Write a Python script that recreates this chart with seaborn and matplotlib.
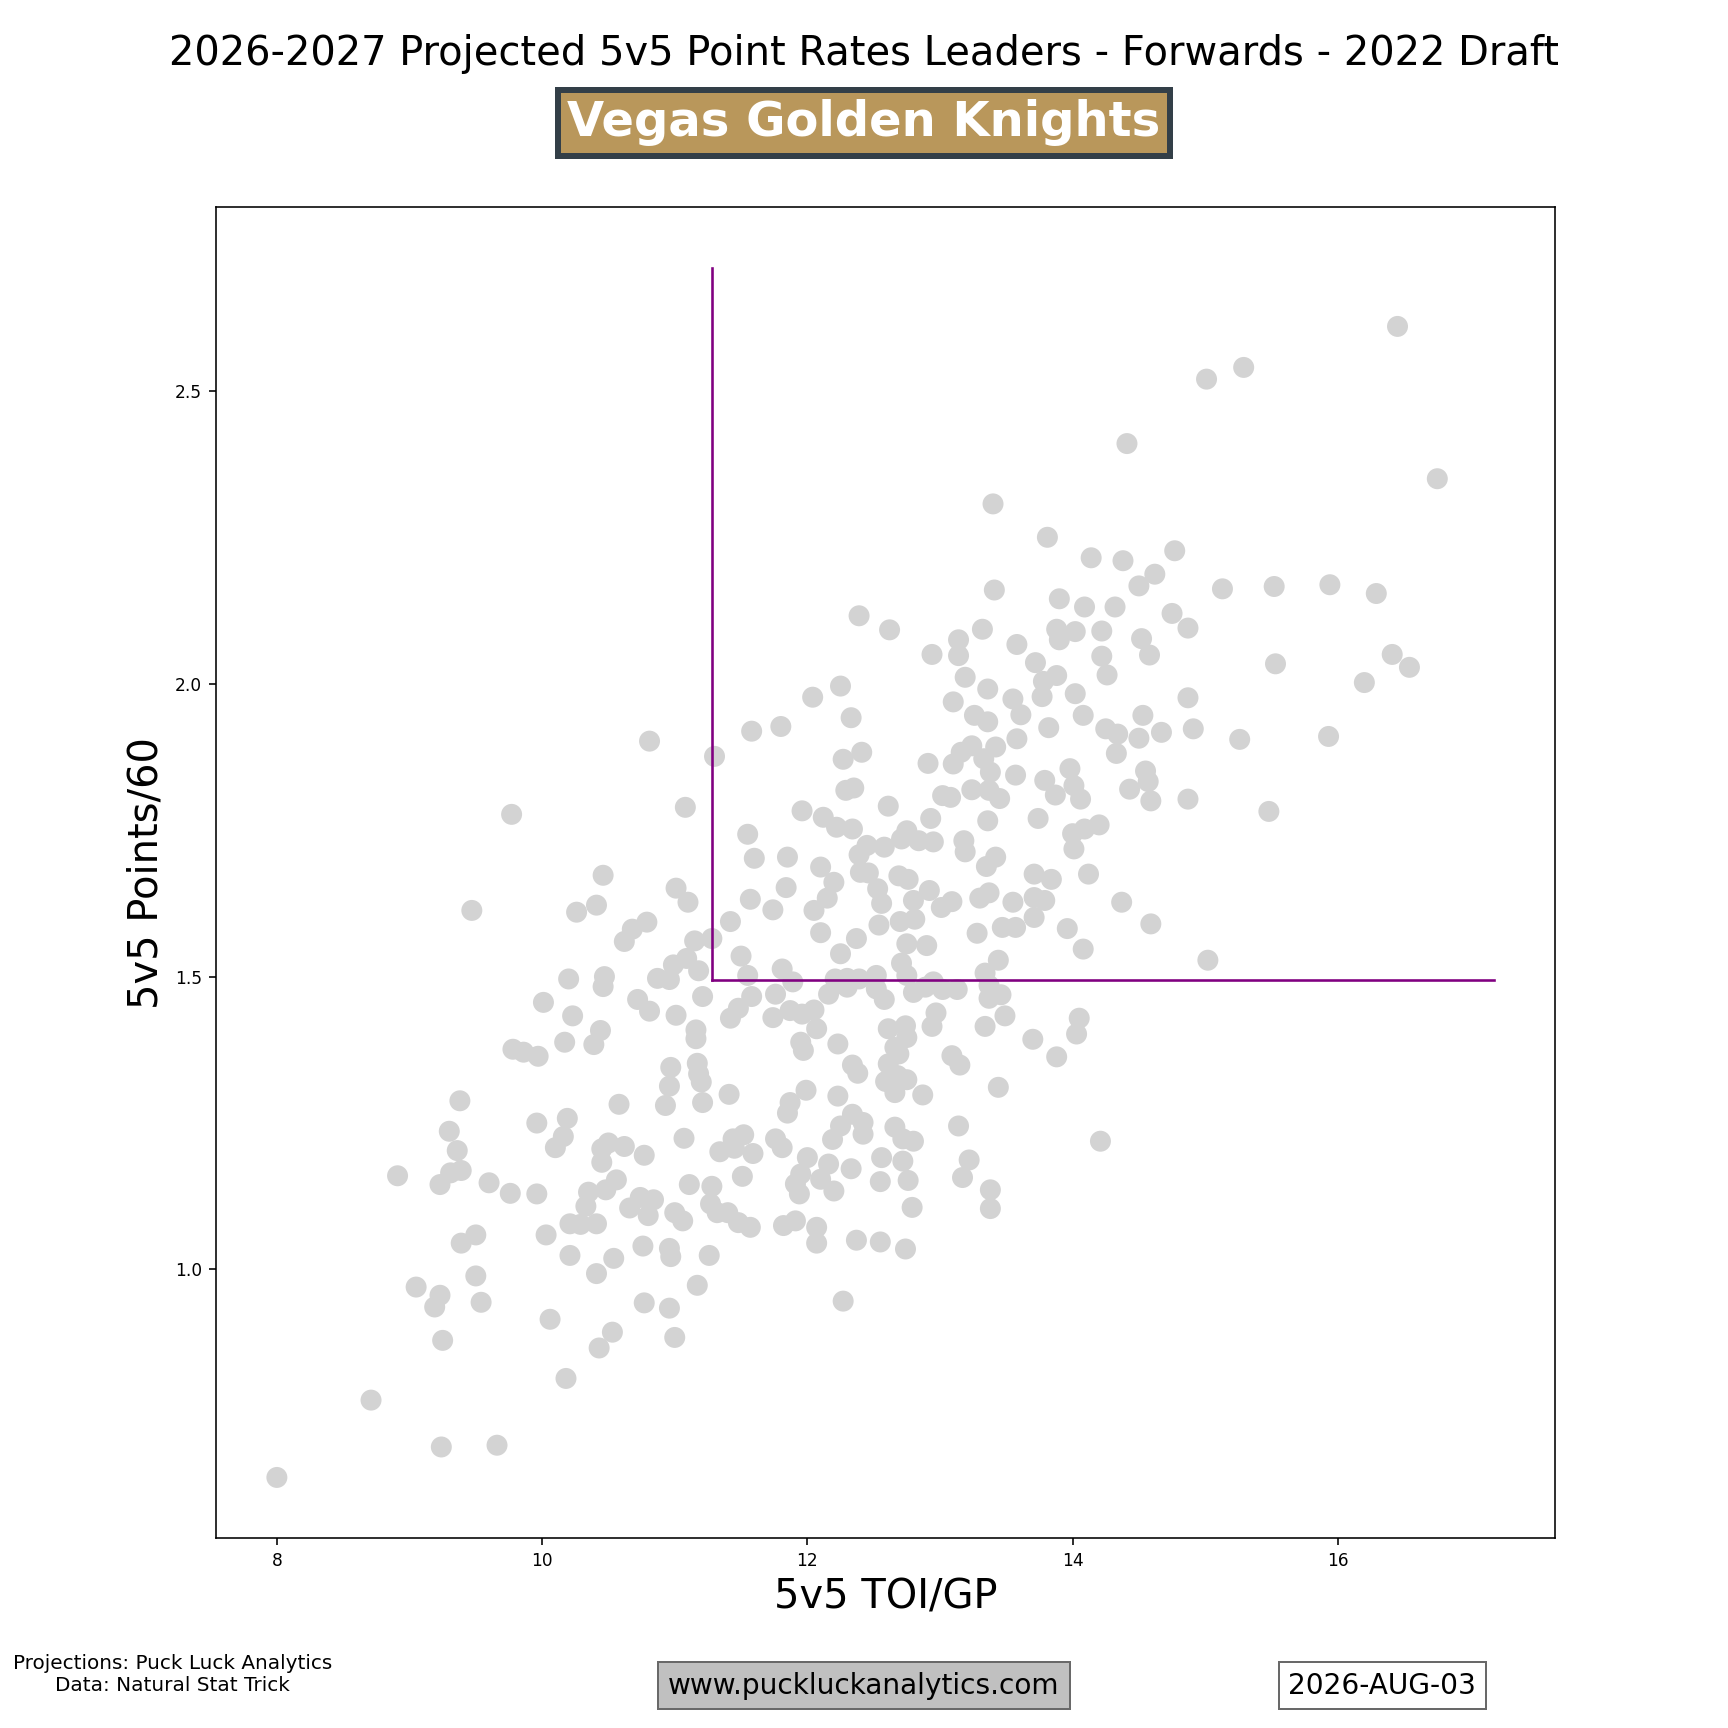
import matplotlib
matplotlib.use('Agg')
import matplotlib.pyplot as plt
import seaborn as sns
import pandas as pd

# projected 5v5 TOI per game and points per 60, one entry per forward
toi = [
    16.45, 15.01, 15.29, 14.41, 16.75, 13.81, 14.14, 14.38, 14.77, 14.62,
    14.50, 15.13, 15.52, 15.94, 16.29, 13.90, 14.09, 14.32, 14.75, 14.87,
    13.88, 14.02, 13.90, 14.22, 14.52, 14.58, 14.22, 14.26, 13.88, 14.02,
    14.87, 15.53, 16.41, 16.54, 16.20,
    13.40, 13.41, 12.39, 12.62, 13.14, 13.32, 12.94, 13.14, 13.58, 13.72,
    13.78, 13.77, 13.19, 13.36, 13.55, 13.10, 12.25, 12.04,
    10.81, 11.30, 11.58, 9.77, 11.08, 11.55, 11.60, 10.46, 9.47, 10.26,
    10.41, 11.01, 11.10, 11.57, 10.62, 10.68, 10.79, 11.42, 11.15, 11.28,
    11.50, 11.09, 10.99, 10.87, 10.96, 11.18, 11.55, 10.20, 10.47, 10.46,
    10.01, 10.23, 10.72, 10.81, 11.01, 11.21, 11.58, 11.48, 11.42, 10.44,
    10.39, 10.17, 11.16, 11.16, 9.78, 9.86, 9.97, 11.17, 11.18, 11.20,
    10.97, 10.96, 10.93, 11.21, 11.41, 9.38, 10.58, 9.30, 9.36, 9.96,
    10.19, 10.16, 10.10, 11.07, 10.45, 10.50, 10.62, 10.45, 10.77, 11.34,
    11.44, 11.52, 11.59, 11.45, 9.39, 9.31, 9.23, 9.60, 9.76, 9.96,
    10.35, 10.33, 10.48, 10.56, 11.51, 11.11, 11.28, 10.66, 10.74, 10.84,
    10.80, 11.00, 11.06, 11.27, 11.32, 11.40, 11.48, 11.57, 10.21, 10.29,
    10.41, 8.91,
    11.80, 12.33, 13.26, 13.36, 13.61, 14.08, 13.82, 14.25, 12.27, 12.41,
    12.91, 13.10, 13.16, 13.24, 13.42, 13.58, 13.33, 13.38, 13.57, 13.98,
    13.79, 13.87, 14.01, 14.06, 12.29, 12.35, 12.61, 13.02, 13.08, 13.24,
    13.37, 13.45, 13.36, 13.74, 12.93, 11.96, 12.12, 12.22, 12.34, 12.75,
    12.71, 12.84, 12.95, 13.18, 13.19, 14.00, 14.09, 14.20, 14.01, 12.39,
    12.45, 12.58, 11.85, 12.10, 12.20, 12.40, 12.46, 12.69, 12.76, 13.42,
    13.35, 13.71, 13.84, 14.12, 11.84, 11.74, 12.05, 12.15, 12.53, 12.56,
    12.92, 12.80, 13.01, 13.09, 13.30, 13.37, 13.55, 13.71, 13.79, 13.71,
    13.57, 13.47, 13.28, 13.96, 14.08, 12.10, 12.37, 12.54, 12.70, 12.81,
    12.25, 12.75, 12.90, 12.71, 13.44, 13.34, 11.81, 11.89, 11.76, 12.21,
    12.30, 12.39, 12.52, 12.16, 12.30, 12.52, 12.58, 12.75, 12.80, 12.89,
    12.95, 13.02, 13.13, 13.37, 13.37, 13.46, 11.87, 11.96, 12.05, 12.07,
    11.74, 12.97, 12.94, 13.34, 13.49, 14.05, 14.03, 13.70, 13.88, 11.95,
    11.97, 12.23, 12.61, 12.74, 12.75, 12.66, 12.69, 12.61, 12.34, 12.38,
    13.09, 13.15, 12.59, 12.68, 12.75, 12.66, 12.87, 13.44, 11.99, 12.23,
    11.87, 11.85, 12.34, 12.25, 12.42, 12.42, 12.19, 12.66, 12.72, 12.80,
    13.14, 14.21, 11.76, 11.81, 12.00, 12.16, 12.33, 12.56, 12.72, 13.22,
    13.17, 11.95, 11.91, 11.94, 12.10, 12.20, 12.55, 12.76, 13.38, 13.38,
    12.79, 11.91, 12.07, 11.82,
    14.53, 14.34, 14.50, 14.67, 14.91, 15.26, 15.93, 14.33, 14.55, 14.43,
    14.57, 14.59, 14.87, 15.48, 14.37, 14.59, 15.02,
    8.00, 8.71, 9.24, 9.66, 9.25, 9.05, 9.23, 9.19, 9.39, 9.50,
    9.50, 9.54, 10.03, 10.21, 10.41, 10.54, 10.76, 10.77, 10.06, 10.53,
    10.43, 10.18,
    12.07, 10.96, 10.97, 11.26, 11.17, 10.96, 11.00, 12.27, 12.37, 12.55,
    12.74,
]

points_60 = [
    2.610, 2.520, 2.540, 2.410, 2.350, 2.250, 2.215, 2.210, 2.227, 2.187,
    2.167, 2.162, 2.166, 2.169, 2.154, 2.145, 2.131, 2.131, 2.120, 2.095,
    2.093, 2.089, 2.075, 2.090, 2.077, 2.049, 2.047, 2.015, 2.014, 1.983,
    1.976, 2.034, 2.050, 2.028, 2.002,
    2.307, 2.160, 2.116, 2.092, 2.075, 2.093, 2.050, 2.048, 2.067, 2.036,
    2.004, 1.978, 2.011, 1.991, 1.974, 1.969, 1.996, 1.977,
    1.902, 1.876, 1.919, 1.777, 1.789, 1.743, 1.702, 1.673, 1.613, 1.610,
    1.622, 1.651, 1.627, 1.632, 1.560, 1.581, 1.593, 1.594, 1.561, 1.565,
    1.535, 1.531, 1.520, 1.497, 1.495, 1.510, 1.502, 1.496, 1.500, 1.483,
    1.456, 1.433, 1.461, 1.441, 1.434, 1.466, 1.466, 1.446, 1.429, 1.408,
    1.384, 1.388, 1.409, 1.394, 1.376, 1.371, 1.364, 1.352, 1.334, 1.320,
    1.345, 1.313, 1.280, 1.285, 1.299, 1.288, 1.282, 1.236, 1.203, 1.250,
    1.258, 1.227, 1.208, 1.224, 1.206, 1.216, 1.210, 1.183, 1.195, 1.201,
    1.223, 1.230, 1.198, 1.207, 1.169, 1.165, 1.145, 1.148, 1.130, 1.129,
    1.132, 1.108, 1.136, 1.153, 1.159, 1.145, 1.142, 1.105, 1.123, 1.119,
    1.092, 1.097, 1.083, 1.112, 1.097, 1.097, 1.080, 1.072, 1.078, 1.077,
    1.078, 1.160,
    1.927, 1.942, 1.946, 1.935, 1.947, 1.946, 1.925, 1.923, 1.871, 1.883,
    1.864, 1.863, 1.883, 1.894, 1.892, 1.906, 1.872, 1.849, 1.844, 1.855,
    1.835, 1.810, 1.826, 1.803, 1.818, 1.822, 1.791, 1.809, 1.806, 1.819,
    1.818, 1.804, 1.766, 1.770, 1.770, 1.783, 1.772, 1.755, 1.752, 1.749,
    1.735, 1.732, 1.730, 1.732, 1.713, 1.744, 1.752, 1.759, 1.718, 1.708,
    1.724, 1.721, 1.704, 1.687, 1.661, 1.678, 1.677, 1.672, 1.666, 1.704,
    1.688, 1.675, 1.666, 1.675, 1.652, 1.614, 1.613, 1.634, 1.650, 1.625,
    1.647, 1.630, 1.618, 1.628, 1.634, 1.643, 1.627, 1.635, 1.630, 1.601,
    1.584, 1.584, 1.574, 1.582, 1.547, 1.575, 1.565, 1.588, 1.594, 1.598,
    1.539, 1.556, 1.553, 1.523, 1.528, 1.506, 1.513, 1.491, 1.470, 1.496,
    1.497, 1.496, 1.502, 1.470, 1.482, 1.479, 1.461, 1.502, 1.473, 1.482,
    1.491, 1.478, 1.478, 1.485, 1.463, 1.469, 1.442, 1.436, 1.443, 1.411,
    1.430, 1.438, 1.415, 1.415, 1.433, 1.429, 1.402, 1.393, 1.363, 1.388,
    1.374, 1.385, 1.411, 1.416, 1.396, 1.379, 1.368, 1.351, 1.349, 1.335,
    1.365, 1.349, 1.321, 1.331, 1.324, 1.302, 1.298, 1.311, 1.306, 1.296,
    1.285, 1.267, 1.265, 1.245, 1.251, 1.231, 1.222, 1.243, 1.223, 1.219,
    1.245, 1.219, 1.223, 1.208, 1.191, 1.180, 1.172, 1.191, 1.185, 1.187,
    1.157, 1.163, 1.146, 1.129, 1.154, 1.134, 1.150, 1.152, 1.136, 1.104,
    1.106, 1.083, 1.072, 1.075,
    1.946, 1.914, 1.907, 1.917, 1.923, 1.905, 1.910, 1.881, 1.851, 1.820,
    1.833, 1.800, 1.803, 1.782, 1.627, 1.590, 1.528,
    0.645, 0.777, 0.697, 0.700, 0.879, 0.970, 0.956, 0.936, 1.045, 1.059,
    0.989, 0.944, 1.059, 1.024, 0.993, 1.019, 1.040, 0.943, 0.915, 0.893,
    0.866, 0.814,
    1.045, 1.036, 1.022, 1.024, 0.973, 0.934, 0.884, 0.946, 1.050, 1.047,
    1.035,
]

# leader thresholds (purple guide lines)
toi_cut = 11.28
pts_cut = 1.495
toi_line_end = 17.18
pts_line_end = 2.71

team = 'Vegas Golden Knights'
team_fill = '#B9975B'
team_edge = '#333F48'

df = pd.DataFrame({'toi': toi, 'pts': points_60})

fig = plt.figure(figsize=(12, 12), dpi=144)
ax = fig.add_subplot(111)

sns.scatterplot(data=df, x='toi', y='pts', color='lightgray', s=110,
                edgecolor='none', linewidth=0, ax=ax, zorder=2)

ax.plot([toi_cut, toi_cut], [pts_cut, pts_line_end], color='purple', lw=1.3, zorder=3)
ax.plot([toi_cut, toi_line_end], [pts_cut, pts_cut], color='purple', lw=1.3, zorder=3)

ax.set_xlabel('5v5 TOI/GP', fontsize=20)
ax.set_ylabel('5v5 Points/60', fontsize=20)
ax.tick_params(labelsize=8.5)

fig.text(0.5, 0.969, '2026-2027 Projected 5v5 Point Rates Leaders - Forwards - 2022 Draft',
         ha='center', va='center', fontsize=20)
fig.text(0.5, 0.929, team, ha='center', va='center', fontsize=24, fontweight='bold',
         color='white',
         bbox=dict(facecolor=team_fill, edgecolor=team_edge, linewidth=3,
                   boxstyle='square,pad=0.2'))

fig.text(0.1, 0.031, 'Projections: Puck Luck Analytics\nData: Natural Stat Trick',
         ha='center', va='center', fontsize=10)
fig.text(0.5, 0.0245, 'www.puckluckanalytics.com', ha='center', va='center', fontsize=14,
         bbox=dict(facecolor='silver', edgecolor='dimgray', boxstyle='square,pad=0.35'))
fig.text(0.8, 0.0245, '2026-AUG-03', ha='center', va='center', fontsize=14,
         bbox=dict(facecolor='white', edgecolor='dimgray', boxstyle='square,pad=0.35'))

fig.savefig('out.png', dpi=144)
